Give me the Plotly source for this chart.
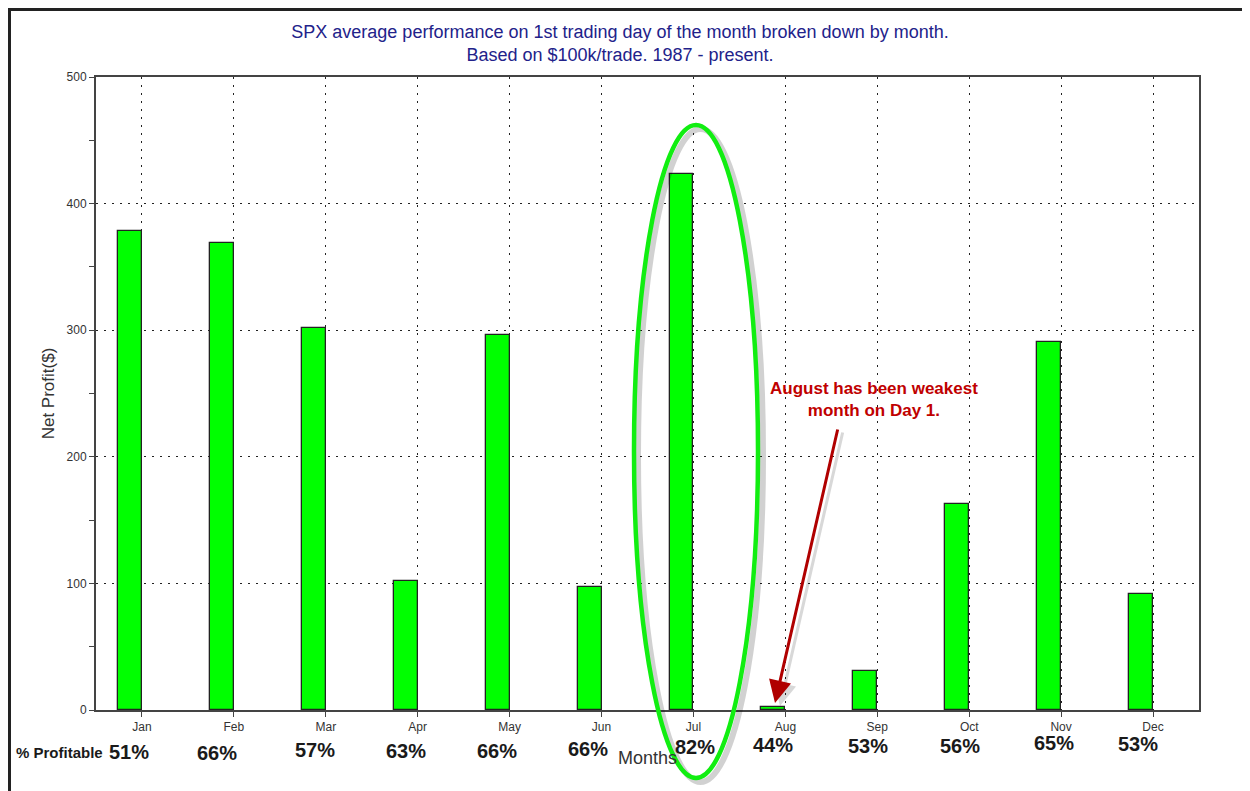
import plotly.graph_objects as go

months = ["Jan", "Feb", "Mar", "Apr", "May", "Jun", "Jul", "Aug", "Sep", "Oct", "Nov", "Dec"]
net_profit = [378, 369, 302, 102, 296, 97, 423, 2, 31, 163, 291, 92]
pct_profitable = ["51%", "66%", "57%", "63%", "66%", "66%", "82%", "44%", "53%", "56%", "65%", "53%"]

# label placement offsets (pixels) relative to category centre / axis line
pct_dx = [-13, -17, -11, -12, -13, -14, 2, -12, -9, -9, -7, -15]
pct_dy = [42, 43, 40, 41, 41, 39, 37, 35, 36, 36, 33, 34]

FONT = "Arial, Liberation Sans, sans-serif"
OFF = 8  # page body margin
W, H = 1250 - OFF, 791 - OFF
# plot area in screen pixels: x 96..1199, y 77..710
L, T = 96 - OFF, 77 - OFF
PW, PH = 1103, 633
R, B = W - L - PW, H - T - PH

def px(x):
    return (x - 96) / PW

def py(y):
    return (710 - y) / PH

fig = go.Figure()
fig.add_trace(go.Bar(
    x=months, y=net_profit,
    width=0.26, offset=-0.26,
    marker=dict(color="#00ff00", line=dict(color="#222222", width=1.3)),
    hoverinfo="x+y",
))

annotations = []
for m, p, dx, dy in zip(months, pct_profitable, pct_dx, pct_dy):
    annotations.append(dict(
        x=m, xref="x", y=0, yref="paper", xshift=dx, yshift=-dy,
        text=f"<b>{p}</b>", showarrow=False, xanchor="center", yanchor="middle",
        font=dict(family=FONT, size=20, color="#1a1a1a"),
    ))
annotations.append(dict(
    x=px(14), y=py(752), xref="paper", yref="paper", text="<b>% Profitable</b>",
    showarrow=False, xanchor="left", yanchor="middle",
    font=dict(family=FONT, size=15, color="#1a1a1a"),
))
annotations.append(dict(
    x=px(874), y=py(399), xref="paper", yref="paper",
    text="<b>August has been weakest<br>month on Day 1.</b>",
    showarrow=False, xanchor="center", yanchor="middle",
    font=dict(family=FONT, size=17, color="#c00000"),
))
# arrow shadow
annotations.append(dict(
    x=px(780), y=py(706), xref="paper", yref="paper", ax=63, ay=-275,
    text="", showarrow=True, arrowhead=2, arrowsize=1.5, arrowwidth=3,
    arrowcolor="rgba(0,0,0,0.15)",
))
annotations.append(dict(
    x=px(775), y=py(703), xref="paper", yref="paper", ax=63, ay=-275,
    text="", showarrow=True, arrowhead=2, arrowsize=1.5, arrowwidth=3,
    arrowcolor="#b00000",
))

shapes = [
    # outer frame
    dict(type="line", xref="paper", yref="paper", x0=px(9.5), x1=px(9.5), y0=py(8), y1=py(791),
         line=dict(color="#222222", width=3)),
    dict(type="line", xref="paper", yref="paper", x0=px(8), x1=px(1250), y0=py(9.5), y1=py(9.5),
         line=dict(color="#222222", width=3)),
    # ellipse shadow and ellipse
    dict(type="circle", xref="paper", yref="paper", x0=px(638), x1=px(763), y0=py(782), y1=py(129),
         line=dict(color="rgba(0,0,0,0.18)", width=6)),
    dict(type="circle", xref="paper", yref="paper", x0=px(634), x1=px(758), y0=py(778), y1=py(125),
         line=dict(color="#11ee11", width=4.5)),
]

GRID_DASH = "2px,6px"

fig.update_layout(
    width=W, height=H,
    margin=dict(l=L, r=R, t=T, b=B),
    paper_bgcolor="white", plot_bgcolor="white",
    showlegend=False, bargap=0,
    title=dict(
        text="SPX average performance on 1st trading day of the month broken down by month.<br>Based on $100k/trade. 1987 - present.",
        x=(620 - OFF) / W, xref="container", xanchor="center",
        y=1 - (38 - OFF) / H, yref="container", yanchor="middle",
        font=dict(family=FONT, size=18, color="#22228a"),
    ),
    xaxis=dict(
        showline=True, linecolor="#444444", linewidth=2, mirror=True,
        showgrid=True, gridcolor="#222222", griddash=GRID_DASH, gridwidth=1,
        ticks="outside", ticklen=5, tickcolor="#444444",
        tickfont=dict(family=FONT, size=12, color="#333333"),
        title=dict(text="Months", font=dict(family=FONT, size=18, color="#333333"), standoff=18),
        range=[-0.5, 11.5], zeroline=False,
    ),
    yaxis=dict(
        range=[0, 500], dtick=100,
        showline=True, linecolor="#444444", linewidth=2, mirror=True,
        showgrid=True, gridcolor="#222222", griddash=GRID_DASH, gridwidth=1,
        ticks="outside", ticklen=5, tickcolor="#444444",
        minor=dict(dtick=50, ticks="outside", ticklen=5, tickcolor="#444444", showgrid=False),
        tickfont=dict(family=FONT, size=12, color="#333333"),
        title=dict(text="Net Profit($)", font=dict(family=FONT, size=17, color="#333333"), standoff=8),
        zeroline=False,
    ),
    annotations=annotations,
    shapes=shapes,
)

fig.write_html("out.html")
